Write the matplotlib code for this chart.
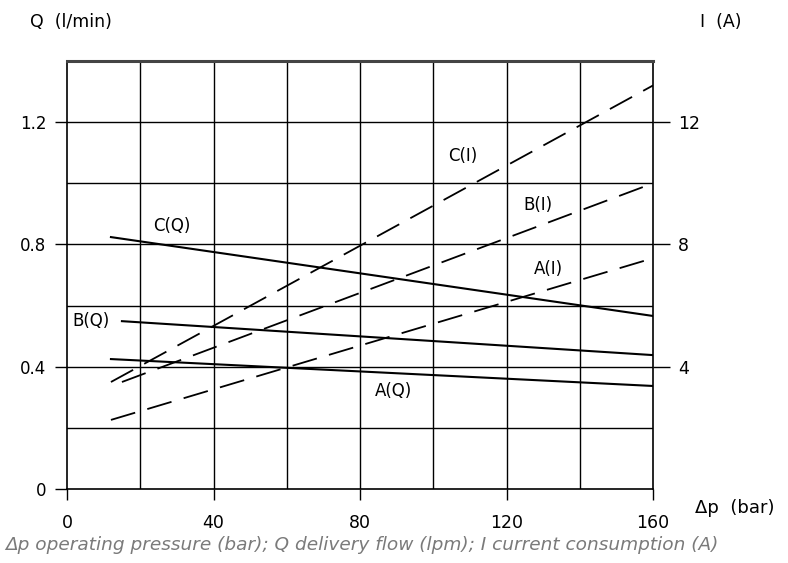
import matplotlib
matplotlib.use("Agg")
import matplotlib.pyplot as plt
import numpy as np

# Data
x_end = 160
Q_series = {"A(Q)": [0.425, 0.337], "B(Q)": [0.549, 0.438], "C(Q)": [0.824, 0.566]}
I_series = {"A(I)": [2.26, 7.55], "B(I)": [3.5, 10.0], "C(I)": [3.5, 13.2]}
I_start = {"A(I)": 12, "B(I)": 15, "C(I)": 12}
Q_start = {"A(Q)": 12, "B(Q)": 15, "C(Q)": 12}
x_ticks = [0, 40, 80, 120, 160]
q_ticks = [0, 0.4, 0.8, 1.2]
q_tick_labels = ["0", "0.4", "0.8", "1.2"]
i_ticks = [4, 8, 12]

fig = plt.figure(figsize=(7.88, 5.63), dpi=100)
W, H = 788, 563
ax = fig.add_axes([67 / W, (H - 489) / H, (653 - 67) / W, (489 - 61) / H])
ax.set_xlim(0, 160)
ax.set_ylim(0, 1.4)

# grid
for gx in np.arange(20, 160, 20):
    ax.axvline(gx, color="black", lw=1.0, zorder=1)
for gy in np.arange(0.2, 1.4, 0.2):
    ax.axhline(gy, color="black", lw=1.0, zorder=1)

for s in ["left", "right", "bottom"]:
    ax.spines[s].set_color("black")
    ax.spines[s].set_linewidth(1.2)
ax.spines["top"].set_color("#444444")
ax.spines["top"].set_linewidth(2.2)

ax.set_xticks(x_ticks)
ax.set_yticks(q_ticks)
ax.set_yticklabels(q_tick_labels)
ax.tick_params(axis="y", direction="out", length=9, width=1.0, labelsize=12, pad=6)
ax.tick_params(axis="x", direction="out", length=8, width=1.0, labelsize=12.5, pad=10)

ax2 = ax.twinx()
ax2.set_ylim(0, 14)
ax2.set_yticks(i_ticks)
ax2.tick_params(axis="y", direction="out", length=12, width=1.0, labelsize=12.5, pad=6)
for s in ax2.spines.values():
    s.set_visible(False)

for name, (y0, y1) in Q_series.items():
    ax.plot([Q_start[name], x_end], [y0, y1], color="black", lw=1.5, zorder=3)
for name, (y0, y1) in I_series.items():
    ax2.plot([I_start[name], x_end], [y0, y1], color="black", lw=1.3,
             dashes=(14, 7), zorder=3)

# labels
ax.text(23.5, 0.83, "C(Q)", fontsize=12, ha="left", va="bottom")
ax.text(1.5, 0.55, "B(Q)", fontsize=12, ha="left", va="center")
ax.text(84, 0.29, "A(Q)", fontsize=12, ha="left", va="bottom")
ax2.text(104, 10.6, "C(I)", fontsize=12, ha="left", va="bottom")
ax2.text(124.5, 9.0, "B(I)", fontsize=12, ha="left", va="bottom")
ax2.text(127.5, 6.9, "A(I)", fontsize=12, ha="left", va="bottom")

fig.text(30 / W, 1 - 22 / H, "Q  (l/min)", fontsize=12.5, ha="left", va="center")
fig.text(700 / W, 1 - 22 / H, "I  (A)", fontsize=12.5, ha="left", va="center")
fig.text(695 / W, 1 - 508 / H, "Δp  (bar)", fontsize=13, ha="left", va="center")
fig.text(5 / W, 1 - 545 / H,
         "Δp operating pressure (bar); Q delivery flow (lpm); I current consumption (A)",
         fontsize=13.3, style="italic", color="#7a7a7a", ha="left", va="center")

fig.savefig("out.png", dpi=100)
